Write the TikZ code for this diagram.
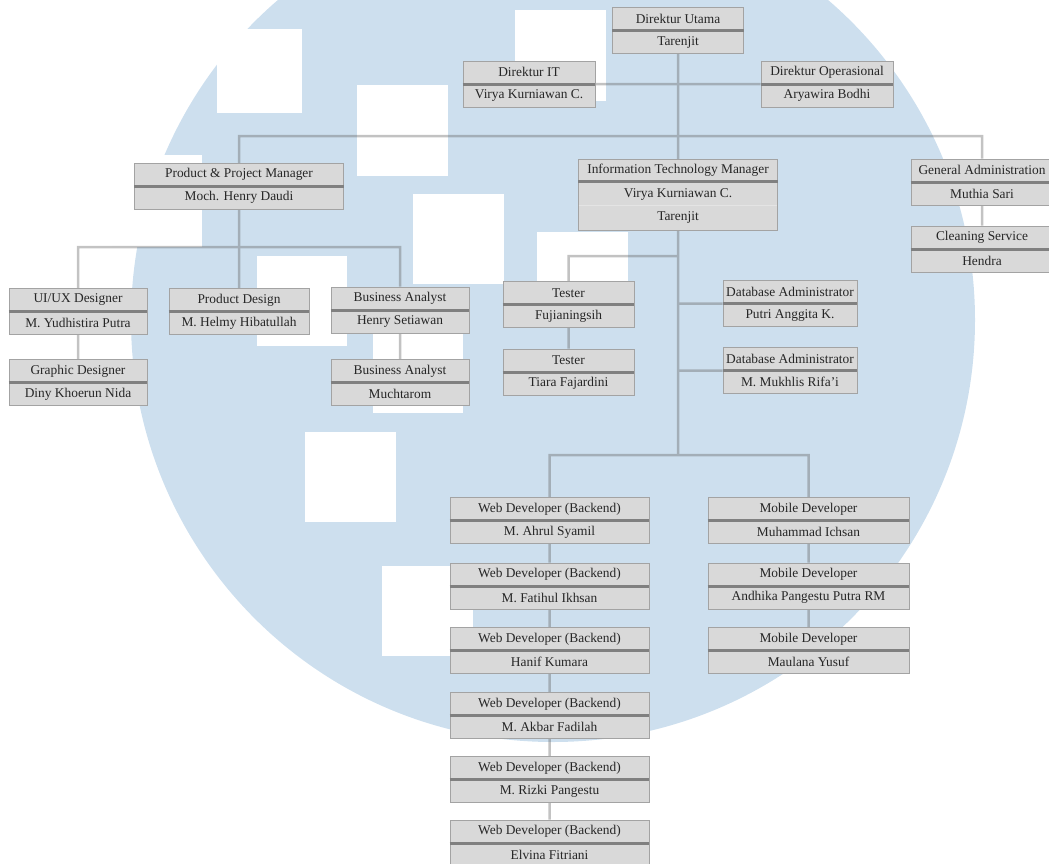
\documentclass[tikz,border=0pt]{standalone}
\usepackage{fontspec}
\setmainfont{Liberation Serif}
\usetikzlibrary{calc}
\definecolor{wmblue}{HTML}{CDDFEE}
\definecolor{boxfill}{HTML}{D9D9D9}
\definecolor{boxline}{HTML}{A3A3A3}
\definecolor{sepline}{HTML}{808080}
\definecolor{conncol}{HTML}{606060}
\definecolor{txtcol}{HTML}{262626}
\definecolor{faintsep}{HTML}{E4E4E4}
\pgfdeclarelayer{bg}
\pgfdeclarelayer{lines}
\pgfsetlayers{bg,lines,main}
\tikzset{
 obox/.style={draw=boxline, fill=boxfill, line width=0.8pt, minimum height=46pt, inner sep=0pt},
 osep/.style={draw=sepline, line width=3pt},
 otxt/.style={inner sep=0pt, text=txtcol, font=\fontsize{13.4}{16}\selectfont},
 conn/.style={draw=conncol, line width=2.5pt},
 wsq/.style={fill=white},
}
\newcommand\obox[6]{%
  \node[obox, minimum width=#4pt] (#1) at (#2,#3) {};
  \draw[osep] (#1.west) -- (#1.east);
  \node[otxt] at ($(#1.north)!0.25!(#1.south)$) {#5};
  \node[otxt] at ($(#1.north)!0.75!(#1.south)$) {#6};
}
\begin{document}
\begin{tikzpicture}[x=1pt,y=-1pt]
\useasboundingbox (0,0) rectangle (1049,863);
\clip (0,0) rectangle (1049,863);
\begin{pgfonlayer}{bg}
\fill[wmblue] (553,320) circle[radius=422pt];
\fill[wsq] (217,29) rectangle (302,113);
\fill[wsq] (515,10) rectangle (606,101);
\fill[wsq] (357,85) rectangle (448,176);
\fill[wsq] (413,194) rectangle (504,284);
\fill[wsq] (537,232) rectangle (628,322);
\fill[wsq] (257,256) rectangle (347,346);
\fill[wsq] (373,323) rectangle (463,413);
\fill[wsq] (305,432) rectangle (396,522);
\fill[wsq] (382,566) rectangle (473,656);
\fill[wsq] (112,155) rectangle (202,247);
\end{pgfonlayer}

\obox{du}{678}{30.5}{131}{Direktur Utama}{Tarenjit}
\obox{dit}{529}{84}{132}{Direktur IT}{Virya Kurniawan C.}
\obox{dop}{827}{84}{132}{Direktur Operasional}{Aryawira Bodhi}
\obox{ppm}{239}{186}{209}{Product \& Project Manager}{Moch. Henry Daudi}
\node[obox, minimum width=199pt, minimum height=71pt] (itm) at (678,194.5) {};
\draw[osep] ($(itm.north west)+(0,23)$) -- ($(itm.north east)+(0,23)$);
\draw[draw=faintsep, line width=1pt] ($(itm.north west)+(0.5,47)$) -- ($(itm.north east)+(-0.5,47)$);
\node[otxt] at ($(itm.north)+(0,11.5)$) {Information Technology Manager};
\node[otxt] at ($(itm.north)+(0,35.5)$) {Virya Kurniawan C.};
\node[otxt] at ($(itm.north)+(0,59)$) {Tarenjit};
\obox{ga}{982}{182}{142}{General Administration}{Muthia Sari}
\obox{cs}{982}{249}{142}{Cleaning Service}{Hendra}
\obox{ux}{78}{311.5}{138}{UI/UX Designer}{M. Yudhistira Putra}
\obox{pd}{239}{311.5}{140}{Product Design}{M. Helmy Hibatullah}
\obox{ba1}{400}{310}{138}{Business Analyst}{Henry Setiawan}
\obox{gd}{78}{382.5}{138}{Graphic Designer}{Diny Khoerun Nida}
\obox{ba2}{400}{382.5}{138}{Business Analyst}{Muchtarom}
\obox{t1}{568.5}{304.5}{131}{Tester}{Fujianingsih}
\obox{t2}{568.5}{372}{131}{Tester}{Tiara Fajardini}
\obox{db1}{790}{303.5}{134}{Database Administrator}{Putri Anggita K.}
\obox{db2}{790}{370.5}{134}{Database Administrator}{M. Mukhlis Rifa’i}
\obox{wd1}{549.5}{520.5}{199}{Web Developer (Backend)}{M. Ahrul Syamil}
\obox{wd2}{549.5}{586}{199}{Web Developer (Backend)}{M. Fatihul Ikhsan}
\obox{wd3}{549.5}{650.5}{199}{Web Developer (Backend)}{Hanif Kumara}
\obox{wd4}{549.5}{715.5}{199}{Web Developer (Backend)}{M. Akbar Fadilah}
\obox{wd5}{549.5}{779.5}{199}{Web Developer (Backend)}{M. Rizki Pangestu}
\obox{wd6}{549.5}{843}{199}{Web Developer (Backend)}{Elvina Fitriani}
\obox{mb1}{808.5}{520.5}{201}{Mobile Developer}{Muhammad Ichsan}
\obox{mb2}{808.5}{586}{201}{Mobile Developer}{Andhika Pangestu Putra RM}
\obox{mb3}{808.5}{650.5}{201}{Mobile Developer}{Maulana Yusuf}

\coordinate (topbus) at (678,136);
\coordinate (lbus) at (239,247);
\coordinate (tbus) at (678,256);
\coordinate (bbus) at (678,455);

\begin{pgfonlayer}{lines}
\begin{scope}[transparency group, opacity=0.38]
\draw[conn] (dit.east) -- (dop.west);
\draw[conn] (du.south) -- (bbus);
\draw[conn] (pd.north) |- (topbus) -| (ga.north);
\draw[conn] (ga.south) -- (cs.north);
\draw[conn] (ux.north) |- (lbus) -| (ba1.north);
\draw[conn] (ux.south) -- (gd.north);
\draw[conn] (ba1.south) -- (ba2.north);
\draw[conn] (tbus) -| (t1.north);
\draw[conn] (t1.south) -- (t2.north);
\draw[conn] (tbus |- db1.west) -- (db1.west);
\draw[conn] (tbus |- db2.west) -- (db2.west);
\draw[conn] (wd1.north) |- (bbus) -| (mb1.north);
\draw[conn] (wd1.south) -- (wd2.north);
\draw[conn] (wd2.south) -- (wd3.north);
\draw[conn] (wd3.south) -- (wd4.north);
\draw[conn] (wd4.south) -- (wd5.north);
\draw[conn] (wd5.south) -- (wd6.north);
\draw[conn] (mb1.south) -- (mb2.north);
\draw[conn] (mb2.south) -- (mb3.north);
\end{scope}
\end{pgfonlayer}
\end{tikzpicture}
\end{document}
